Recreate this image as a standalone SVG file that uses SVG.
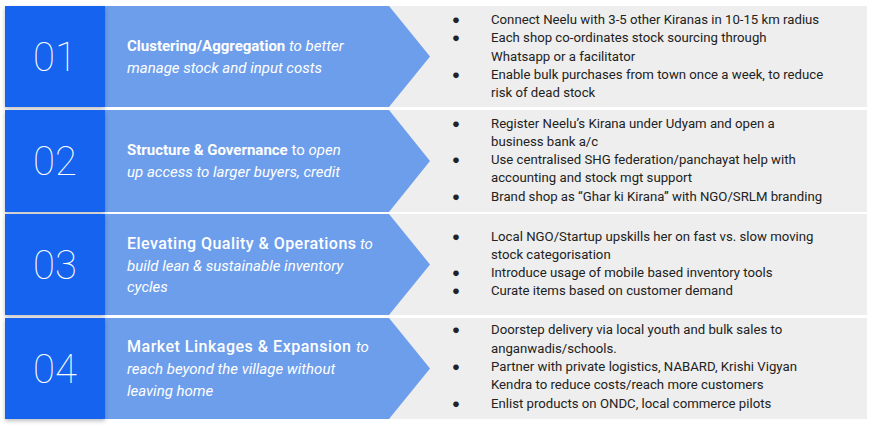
<svg xmlns="http://www.w3.org/2000/svg" width="871" height="428" viewBox="0 0 871 428">
<defs>
<filter id="sh" x="-20%" y="-20%" width="140%" height="140%">
<feDropShadow dx="0" dy="2" stdDeviation="2" flood-color="#000" flood-opacity="0.25"/>
</filter>
</defs>
<style>
.num{font-family:Roboto,"Liberation Sans",sans-serif;font-weight:100;font-size:40px;fill:#ffffff;text-anchor:middle}
.dark{fill:#1463f0}
.chev{fill:#6d9eeb}
.bg{fill:#eeeeee}
.t{font-family:Roboto,"Liberation Sans",sans-serif;font-size:15px;fill:#ffffff}
.b{font-weight:700}
.m{font-weight:500;font-size:16px}
.i{font-style:italic}
.r{font-family:Roboto,"Liberation Sans",sans-serif;font-size:13.2px;fill:#222222}
</style>
<rect width="871" height="428" fill="#ffffff"/>
<g id="row1">
<rect class="bg" x="385" y="6" width="482" height="101"/>
<polygon class="chev" points="105,6 389,6 430,56.5 389,107 105,107"/>
<rect class="dark" x="5" y="6" width="100" height="101" filter="url(#sh)"/>
<text class="num" x="55" y="71">01</text>
<text class="t" x="127" y="51"><tspan class="b">Clustering/Aggregation</tspan><tspan class="i"> to better</tspan></text>
<text class="t i" x="127" y="73">manage stock and input costs</text>
<g class="r">
<text x="452" y="24">●</text><text x="491" y="24">Connect Neelu with 3-5 other Kiranas in 10-15 km radius</text>
<text x="452" y="42">●</text><text x="491" y="42">Each shop co-ordinates stock sourcing through</text>
<text x="491" y="61">Whatsapp or a facilitator</text>
<text x="452" y="79">●</text><text x="491" y="79">Enable bulk purchases from town once a week, to reduce</text>
<text x="491" y="97">risk of dead stock</text>
</g>
</g>
<g id="row2">
<rect class="bg" x="385" y="110" width="482" height="102"/>
<polygon class="chev" points="105,110 389,110 430,161 389,212 105,212"/>
<rect class="dark" x="5" y="110" width="100" height="102" filter="url(#sh)"/>
<text class="num" x="55" y="175">02</text>
<text class="t" x="127" y="155"><tspan class="b">Structure &amp; Governance</tspan><tspan> to </tspan><tspan class="i">open</tspan></text>
<text class="t i" x="127" y="177">up access to larger buyers, credit</text>
<g class="r">
<text x="452" y="128">●</text><text x="491" y="128">Register Neelu’s Kirana under Udyam and open a</text>
<text x="491" y="146">business bank a/c</text>
<text x="452" y="164">●</text><text x="491" y="164">Use centralised SHG federation/panchayat help with</text>
<text x="491" y="182">accounting and stock mgt support</text>
<text x="452" y="201">●</text><text x="491" y="201">Brand shop as “Ghar ki Kirana” with NGO/SRLM branding</text>
</g>
</g>
<g id="row3">
<rect class="bg" x="385" y="214" width="482" height="101"/>
<polygon class="chev" points="105,214 389,214 430,264.5 389,315 105,315"/>
<rect class="dark" x="5" y="214" width="100" height="101" filter="url(#sh)"/>
<text class="num" x="55" y="278.5">03</text>
<text class="t m" x="127" y="249" textLength="229" lengthAdjust="spacing">Elevating Quality &amp; Operations</text>
<text class="t i" x="360" y="249">to</text>
<text class="t i" x="127" y="271">build lean &amp; sustainable inventory</text>
<text class="t i" x="127" y="292">cycles</text>
<g class="r">
<text x="452" y="241">●</text><text x="491" y="241">Local NGO/Startup upskills her on fast vs. slow moving</text>
<text x="491" y="259">stock categorisation</text>
<text x="452" y="277">●</text><text x="491" y="277">Introduce usage of mobile based inventory tools</text>
<text x="452" y="295">●</text><text x="491" y="295">Curate items based on customer demand</text>
</g>
</g>
<g id="row4">
<rect class="bg" x="385" y="318" width="482" height="101"/>
<polygon class="chev" points="105,318 389,318 430,368.5 389,419 105,419"/>
<rect class="dark" x="5" y="318" width="100" height="101" filter="url(#sh)"/>
<text class="num" x="55" y="382.5">04</text>
<text class="t m" x="127" y="352" textLength="224" lengthAdjust="spacing">Market Linkages &amp; Expansion</text>
<text class="t i" x="356" y="352">to</text>
<text class="t i" x="127" y="374">reach beyond the village without</text>
<text class="t i" x="127" y="396">leaving home</text>
<g class="r">
<text x="452" y="334">●</text><text x="491" y="334">Doorstep delivery via local youth and bulk sales to</text>
<text x="491" y="353">anganwadis/schools.</text>
<text x="452" y="371">●</text><text x="491" y="371">Partner with private logistics, NABARD, Krishi Vigyan</text>
<text x="491" y="389">Kendra to reduce costs/reach more customers</text>
<text x="452" y="408">●</text><text x="491" y="408">Enlist products on ONDC, local commerce pilots</text>
</g>
</g>
<g id="connectors"></g>
</svg>
